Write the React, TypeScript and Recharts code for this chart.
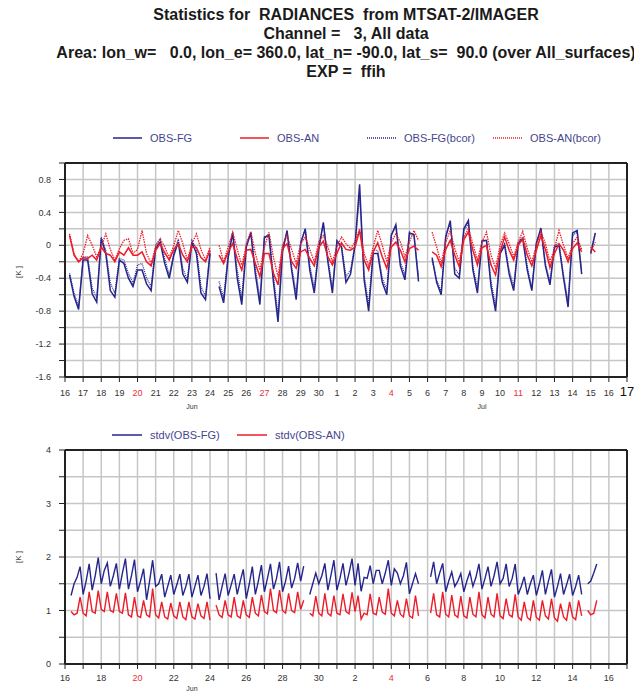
import React from 'react';
import { LineChart, Line, XAxis, YAxis, CartesianGrid, ReferenceLine } from 'recharts';

const FONT = '"Liberation Sans", Arial, sans-serif';
const BLUE = '#25258c';
const RED = '#ee1c28';
const GRID = '#c6c6c6';
const FRAME = '#222222';
const TICK_TEXT = '#333333';
const SUN = '#e8303a';
const LEGEND_TEXT = '#45458f';

const TITLE_LINES = [
  'Statistics for  RADIANCES  from MTSAT-2/IMAGER',
  'Channel =   3, All data',
  'Area: lon_w=   0.0, lon_e= 360.0, lat_n= -90.0, lat_s=  90.0 (over All_surfaces)',
  'EXP =  ffih',
];

// x axis: one tick per day, 16 Jun .. 17 Jul
const TOP_DAY_LABELS = ['16', '17', '18', '19', '20', '21', '22', '23', '24', '25', '26', '27', '28', '29', '30',
  '1', '2', '3', '4', '5', '6', '7', '8', '9', '10', '11', '12', '13', '14', '15', '16', '17'];
const BOTTOM_DAY_LABELS = ['16', '', '18', '', '20', '', '22', '', '24', '', '26', '', '28', '', '30', '',
  '2', '', '4', '', '6', '', '8', '', '10', '', '12', '', '14', '', '16', ''];
const SUNDAYS = [4, 11, 18, 25];
const TOP_MONTHS = ['Jun', 'Jul'];
const TOP_MONTH_TICKS = [7, 23];
const BOTTOM_MONTHS = ['Jun'];
const BOTTOM_MONTH_TICKS = [7];

const BIAS_Y_TICKS = [-1.6, -1.4, -1.2, -1.0, -0.8, -0.6, -0.4, -0.2, 0, 0.2, 0.4, 0.6, 0.8, 1.0];
const BIAS_Y_LABELS = ['-1.6', '', '-1.2', '', '-0.8', '', '-0.4', '', '0', '', '0.4', '', '0.8', ''];
const STDV_Y_TICKS = [0, 0.5, 1, 1.5, 2, 2.5, 3, 3.5, 4];
const STDV_Y_LABELS = ['0', '', '1', '', '2', '', '3', '', '4'];

// bias series, 4 values per day (00, 06, 12, 18 UTC), first row = 16 Jun
const obsFg = [
  null, -0.36, -0.62, -0.78,
  -0.18, -0.18, -0.59, -0.69,
  0.08, -0.1, -0.55, -0.63,
  -0.18, -0.22, -0.4, -0.5,
  -0.3, -0.3, -0.47, -0.55,
  -0.04, 0.04, -0.22, -0.4,
  -0.12, 0.04, -0.35, -0.45,
  0.04, -0.1, -0.58, -0.66,
  -0.1, null, -0.5, -0.7,
  -0.15, 0.15, -0.4, -0.72,
  -0.02, 0.15, -0.35, -0.72,
  0.1, 0.12, -0.45, -0.93,
  -0.08, 0.18, -0.3, -0.66,
  0.02, 0.2, -0.3, -0.58,
  -0.05, 0.28, -0.2, -0.58,
  0.05, -0.02, -0.45, -0.35,
  0.0, 0.74, -0.42, -0.8,
  -0.1, -0.1, -0.45, -0.6,
  0.12, 0.25, -0.25, -0.42,
  0.15, 0.13, -0.44, null,
  null, -0.15, -0.45, -0.6,
  0.1, 0.3, -0.35, -0.4,
  0.2, 0.3, -0.3, -0.58,
  0.05, 0.06, -0.5, -0.8,
  -0.1, 0.0, -0.35, -0.55,
  0.02, 0.08, -0.3, -0.55,
  0.02, 0.21, -0.25, -0.48,
  -0.02, 0.0, -0.4, -0.75,
  0.15, 0.18, -0.35, null,
  -0.1, 0.15, null, null,
];

const obsAn = [
  null, 0.12, -0.12, -0.2,
  -0.15, -0.16, -0.12, -0.18,
  -0.02, -0.1, -0.12, -0.2,
  -0.08, -0.12, -0.03, -0.12,
  -0.12, -0.08, -0.2, -0.25,
  -0.06, 0.02, -0.09, -0.18,
  -0.05, 0.02, -0.12, -0.2,
  -0.02, -0.03, -0.15, -0.2,
  -0.06, null, -0.12, -0.22,
  -0.08, 0.02, -0.16, -0.3,
  -0.06, -0.05, -0.22, -0.38,
  -0.1, -0.1, -0.34, -0.48,
  -0.04, 0.02, -0.2, -0.28,
  -0.08, -0.05, -0.16, -0.25,
  -0.02, 0.05, -0.14, -0.24,
  -0.1, 0.03, -0.05, -0.06,
  -0.02, 0.18, -0.18, -0.3,
  -0.08, 0.03, -0.14, -0.28,
  -0.02, 0.04, -0.06, -0.2,
  -0.04, -0.01, -0.06, null,
  null, -0.08, -0.12, -0.26,
  -0.05, 0.06, -0.12, -0.26,
  0.07, 0.16, -0.06, -0.24,
  -0.03, 0.0, -0.24, -0.36,
  -0.08, 0.1, -0.06, -0.18,
  0.0, 0.08, -0.12, -0.25,
  -0.06, 0.12, -0.05, -0.27,
  -0.1, 0.02, -0.06, -0.2,
  -0.04, 0.03, -0.08, null,
  -0.02, -0.08, null, null,
];

const obsFgBcor = [
  null, -0.34, -0.58, -0.74,
  -0.14, -0.14, -0.52, -0.64,
  0.1, -0.06, -0.46, -0.58,
  -0.16, -0.18, -0.34, -0.46,
  -0.24, -0.22, -0.4, -0.5,
  0.0, 0.08, -0.16, -0.36,
  -0.1, 0.08, -0.28, -0.42,
  0.06, -0.04, -0.5, -0.62,
  -0.06, null, -0.44, -0.64,
  -0.1, 0.16, -0.3, -0.64,
  0.02, 0.16, -0.28, -0.64,
  0.08, 0.14, -0.38, -0.84,
  -0.02, 0.16, -0.26, -0.58,
  0.04, 0.2, -0.24, -0.52,
  0.0, 0.26, -0.16, -0.52,
  0.06, 0.0, -0.38, -0.3,
  0.02, 0.6, -0.36, -0.72,
  -0.06, -0.06, -0.4, -0.54,
  0.14, 0.22, -0.2, -0.36,
  0.16, 0.12, -0.38, null,
  null, -0.18, -0.42, -0.56,
  0.12, 0.26, -0.28, -0.36,
  0.18, 0.26, -0.26, -0.52,
  0.06, 0.06, -0.44, -0.74,
  -0.06, 0.02, -0.3, -0.5,
  0.04, 0.1, -0.26, -0.52,
  0.04, 0.18, -0.22, -0.44,
  0.0, 0.02, -0.36, -0.68,
  0.12, 0.16, -0.3, null,
  -0.08, 0.14, null, null,
];

const obsAnBcor = [
  null, 0.14, -0.1, -0.2,
  -0.1, 0.12, 0.0, -0.14,
  -0.02, 0.14, -0.05, -0.18,
  -0.04, 0.06, 0.08, -0.1,
  -0.05, 0.18, -0.1, -0.22,
  -0.02, 0.08, -0.02, -0.15,
  0.0, 0.18, 0.02, -0.18,
  0.02, 0.14, -0.05, -0.18,
  -0.02, null, 0.0, -0.2,
  -0.02, 0.16, -0.05, -0.24,
  0.0, 0.17, -0.1, -0.3,
  -0.02, 0.16, -0.15, -0.38,
  0.0, 0.12, -0.05, -0.22,
  0.02, 0.1, -0.05, -0.2,
  0.04, 0.12, -0.02, -0.2,
  -0.02, 0.1, 0.02, -0.04,
  0.04, 0.2, -0.1, -0.25,
  -0.02, 0.18, 0.0, -0.2,
  0.04, 0.14, 0.04, -0.14,
  0.04, 0.18, 0.06, null,
  null, 0.16, -0.02, -0.22,
  0.04, 0.18, -0.04, -0.2,
  0.1, 0.2, 0.02, -0.18,
  0.04, 0.16, -0.12, -0.28,
  0.0, 0.15, 0.02, -0.14,
  0.04, 0.17, -0.04, -0.2,
  0.0, 0.17, 0.02, -0.2,
  -0.04, 0.18, 0.0, -0.16,
  0.02, 0.1, -0.05, null,
  -0.08, 0.04, null, null,
];

// standard deviations, 6 values per day (every 4 h), first row = 16 Jun
const stdvFg = [
  null, null, 1.28, 1.5, 1.62, 1.82,
  1.3, 1.55, 1.87, 1.38, 1.65, 1.99,
  1.5, 1.75, 1.89, 1.45, 1.65, 1.88,
  1.4, 1.7, 1.97, 1.4, 1.65, 1.95,
  1.35, 1.55, 1.78, 1.2, 1.55, 1.94,
  1.45, 1.5, 1.68, 1.25, 1.45, 1.66,
  1.3, 1.48, 1.68, 1.28, 1.45, 1.68,
  1.25, 1.45, 1.66, 1.28, 1.45, 1.69,
  1.22, null, 1.7, 1.2, 1.45, 1.69,
  1.28, 1.48, 1.68, 1.3, 1.55, 1.77,
  1.22, 1.5, 1.82, 1.3, 1.55, 1.85,
  1.35, 1.6, 1.87, 1.4, 1.6, 1.91,
  1.35, 1.55, 1.83, 1.42, 1.6, 1.89,
  1.55, 1.83, null, 1.3, 1.5, 1.7,
  1.5, 1.65, 1.88, 1.38, 1.65, 1.94,
  1.38, 1.6, 1.88, 1.47, 1.7, 1.97,
  1.47, 1.88, 1.36, 1.62, 1.6, 1.84,
  1.5, 1.75, 1.75, 1.5, 1.7, 1.94,
  1.47, 1.78, 1.7, 1.5, 1.65, 1.9,
  1.31, 1.5, 1.69, 1.5, null, null,
  null, 1.63, 1.91, 1.5, 1.7, 1.88,
  1.35, 1.55, 1.72, 1.45, 1.55, 1.69,
  1.35, 1.55, 1.72, 1.45, 1.62, 1.87,
  1.4, 1.6, 1.82, 1.45, 1.65, 1.91,
  1.5, 1.6, 1.87, 1.45, 1.6, 1.87,
  1.3, 1.45, 1.63, 1.3, 1.5, 1.66,
  1.28, 1.5, 1.75, 1.3, 1.55, 1.77,
  1.25, 1.45, 1.69, 1.3, 1.48, 1.68,
  1.28, 1.45, 1.66, 1.3, null, 1.5,
  1.55, 1.7, 1.87, null, null, null,
];

const stdvAn = [
  null, null, 0.98, 0.92, 0.95, 1.25,
  0.95, 0.9, 1.35, 0.98, 0.95, 1.37,
  1.02, 0.98, 1.35, 1.0, 0.97, 1.32,
  0.98, 0.95, 1.33, 0.92, 0.88, 1.25,
  0.9, 0.87, 1.19, 0.92, 0.88, 1.41,
  0.92, 0.86, 1.16, 0.88, 0.84, 1.14,
  0.9, 0.85, 1.16, 0.88, 0.83, 1.16,
  0.88, 0.84, 1.13, 0.9, 0.85, 1.16,
  0.82, null, 1.1, 0.92, 0.87, 1.19,
  0.92, 0.88, 1.25, 0.9, 0.86, 1.19,
  0.92, 0.87, 1.25, 0.95, 0.9, 1.29,
  0.98, 0.94, 1.41, 1.0, 0.96, 1.38,
  1.0, 0.95, 1.32, 1.0, 0.96, 1.35,
  1.02, 1.19, null, 0.95, 0.9, 1.27,
  0.95, 0.9, 1.32, 0.95, 0.9, 1.28,
  0.95, 0.92, 1.31, 0.98, 0.94, 1.34,
  0.98, 1.28, 0.84, 0.95, 0.92, 1.31,
  0.95, 0.92, 1.25, 0.97, 0.93, 1.41,
  0.95, 0.9, 1.19, 0.93, 0.88, 1.22,
  0.9, 0.86, 1.28, 0.9, null, null,
  null, 0.95, 1.32, 0.92, 0.88, 1.35,
  0.93, 0.88, 1.29, 0.92, 0.87, 1.27,
  0.9, 0.86, 1.25, 0.93, 0.88, 1.35,
  0.92, 0.86, 1.25, 0.93, 0.88, 1.32,
  0.9, 0.85, 1.22, 0.92, 0.88, 1.3,
  0.88, 0.82, 1.16, 0.87, 0.82, 1.19,
  0.87, 0.82, 1.19, 0.9, 0.84, 1.22,
  0.86, 0.8, 1.13, 0.88, 0.82, 1.16,
  0.88, 0.83, 1.19, 0.9, null, 1.0,
  0.92, 0.95, 1.19, null, null, null,
];

const BIAS_PER_DAY = 4;
const STDV_PER_DAY = 6;
const DAY_TICKS = TOP_DAY_LABELS.map((_, i) => i);

const biasData = obsFg.map((v, i) => ({
  t: i / BIAS_PER_DAY,
  obsFg: v,
  obsAn: obsAn[i],
  obsFgBcor: obsFgBcor[i],
  obsAnBcor: obsAnBcor[i],
}));

const stdvData = stdvFg.map((v, i) => ({
  t: i / STDV_PER_DAY,
  stdvFg: v,
  stdvAn: stdvAn[i],
}));

function XTick(props: any) {
  const { x, y, payload, labels, months, monthTicks, lastBig, dyLabel, dyMonth } = props;
  const i = payload.value as number;
  const mi = monthTicks.indexOf(i);
  const big = lastBig && i === labels.length - 1;
  const color = SUNDAYS.includes(i) ? SUN : big ? '#111111' : TICK_TEXT;
  return (
    <g>
      <text x={x} y={y + dyLabel} textAnchor="middle" fontSize={big ? 13 : 9} fontFamily={FONT}
        style={{ fill: color }}>{labels[i]}</text>
      {mi >= 0 && (
        <text x={x} y={y + dyMonth} textAnchor="middle" fontSize={7} fontFamily={FONT}
          style={{ fill: TICK_TEXT }}>{months[mi]}</text>
      )}
    </g>
  );
}

function YTick(props: any) {
  const { x, y, payload, ticks, labels } = props;
  const i = ticks.indexOf(payload.value);
  return (
    <text x={x - 6} y={y} dy="0.35em" textAnchor="end" fontSize={9} fontFamily={FONT} style={{ fill: TICK_TEXT }}>
      {labels[i]}
    </text>
  );
}

function LegendLine({ x, y, w, color, dotted, label }: any) {
  return (
    <g>
      <line x1={x} y1={y} x2={x + w} y2={y} stroke={color} strokeWidth={dotted ? 1.3 : 1.5}
        strokeDasharray={dotted ? '1 1' : undefined} />
      <text x={x + w + 8} y={y + 4} fontSize={11} fontFamily={FONT} fill={LEGEND_TEXT}>{label}</text>
    </g>
  );
}

export default function App() {
  return (
    <div style={{ position: 'absolute', left: 0, top: 0, width: 634, height: 694, overflow: 'hidden', background: '#fff' }}>
      <svg width={634} height={694} style={{ position: 'absolute', left: 0, top: 0 }}>
        {TITLE_LINES.map((s, i) => (
          <text key={i} x={346} y={20 + i * 19} textAnchor="middle" fontSize={16} fontWeight="bold"
            fontFamily={FONT} fill="#1a1a1a" xmlSpace="preserve" style={{ whiteSpace: 'pre' }}>{s}</text>
        ))}
        <LegendLine x={113} y={138} w={29} color={BLUE} label="OBS-FG" />
        <LegendLine x={240} y={138} w={29} color={RED} label="OBS-AN" />
        <LegendLine x={367} y={138} w={29} color={BLUE} dotted label="OBS-FG(bcor)" />
        <LegendLine x={493} y={138} w={29} color={RED} dotted label="OBS-AN(bcor)" />
        <LegendLine x={112} y={435} w={30} color={BLUE} label="stdv(OBS-FG)" />
        <LegendLine x={237} y={435} w={30} color={RED} label="stdv(OBS-AN)" />
        <text transform="translate(21,272) rotate(-90)" textAnchor="middle" fontSize={8} fontFamily={FONT} fill="#444">[K ]</text>
        <text transform="translate(21,557) rotate(-90)" textAnchor="middle" fontSize={8} fontFamily={FONT} fill="#444">[K ]</text>
      </svg>

      <div style={{ position: 'absolute', left: 0, top: 150 }}>
        <LineChart width={634} height={270} data={biasData} margin={{ top: 13, right: 7, bottom: 0, left: 0 }}>
          <CartesianGrid stroke={GRID} strokeWidth={1.5} />
          <XAxis dataKey="t" type="number" domain={[0, 31]} ticks={DAY_TICKS} interval={0} allowDataOverflow
            height={43} tickSize={5} tickLine={{ stroke: FRAME }} axisLine={{ stroke: FRAME, strokeWidth: 2 }}
            tick={(p: any) => <XTick {...p} labels={TOP_DAY_LABELS} months={TOP_MONTHS} monthTicks={TOP_MONTH_TICKS}
              lastBig dyLabel={12} dyMonth={25} />} />
          <YAxis type="number" domain={[-1.6, 1.0]} ticks={BIAS_Y_TICKS} interval={0} allowDataOverflow
            width={65} tickSize={6} tickLine={{ stroke: FRAME }} axisLine={{ stroke: FRAME, strokeWidth: 2 }}
            tick={(p: any) => <YTick {...p} ticks={BIAS_Y_TICKS} labels={BIAS_Y_LABELS} />} />
          <ReferenceLine y={1.0} stroke={FRAME} strokeWidth={2} />
          <ReferenceLine x={31} stroke={FRAME} strokeWidth={2} />
          <Line dataKey="obsFgBcor" stroke={BLUE} strokeWidth={1.2} strokeDasharray="1 1" dot={false} isAnimationActive={false} />
          <Line dataKey="obsFg" stroke={BLUE} strokeWidth={1.5} dot={false} isAnimationActive={false} />
          <Line dataKey="obsAnBcor" stroke={RED} strokeWidth={1.3} strokeDasharray="1.5 1" dot={false} isAnimationActive={false} />
          <Line dataKey="obsAn" stroke={RED} strokeWidth={1.5} dot={false} isAnimationActive={false} />
        </LineChart>
      </div>

      <div style={{ position: 'absolute', left: 0, top: 440 }}>
        <LineChart width={634} height={254} data={stdvData} margin={{ top: 10, right: 7, bottom: 0, left: 0 }}>
          <CartesianGrid stroke={GRID} strokeWidth={1.5} />
          <XAxis dataKey="t" type="number" domain={[0, 31]} ticks={DAY_TICKS} interval={0} allowDataOverflow
            height={30} tickSize={5} tickLine={{ stroke: FRAME }} axisLine={{ stroke: FRAME, strokeWidth: 2 }}
            tick={(p: any) => <XTick {...p} labels={BOTTOM_DAY_LABELS} months={BOTTOM_MONTHS} monthTicks={BOTTOM_MONTH_TICKS}
              dyLabel={10} dyMonth={19.5} />} />
          <YAxis type="number" domain={[0, 4]} ticks={STDV_Y_TICKS} interval={0} allowDataOverflow
            width={65} tickSize={6} tickLine={{ stroke: FRAME }} axisLine={{ stroke: FRAME, strokeWidth: 2 }}
            tick={(p: any) => <YTick {...p} ticks={STDV_Y_TICKS} labels={STDV_Y_LABELS} />} />
          <ReferenceLine y={4} stroke={FRAME} strokeWidth={2} />
          <ReferenceLine x={31} stroke={FRAME} strokeWidth={2} />
          <Line dataKey="stdvFg" stroke={BLUE} strokeWidth={1.4} dot={false} isAnimationActive={false} />
          <Line dataKey="stdvAn" stroke={RED} strokeWidth={1.4} dot={false} isAnimationActive={false} />
        </LineChart>
      </div>
    </div>
  );
}
